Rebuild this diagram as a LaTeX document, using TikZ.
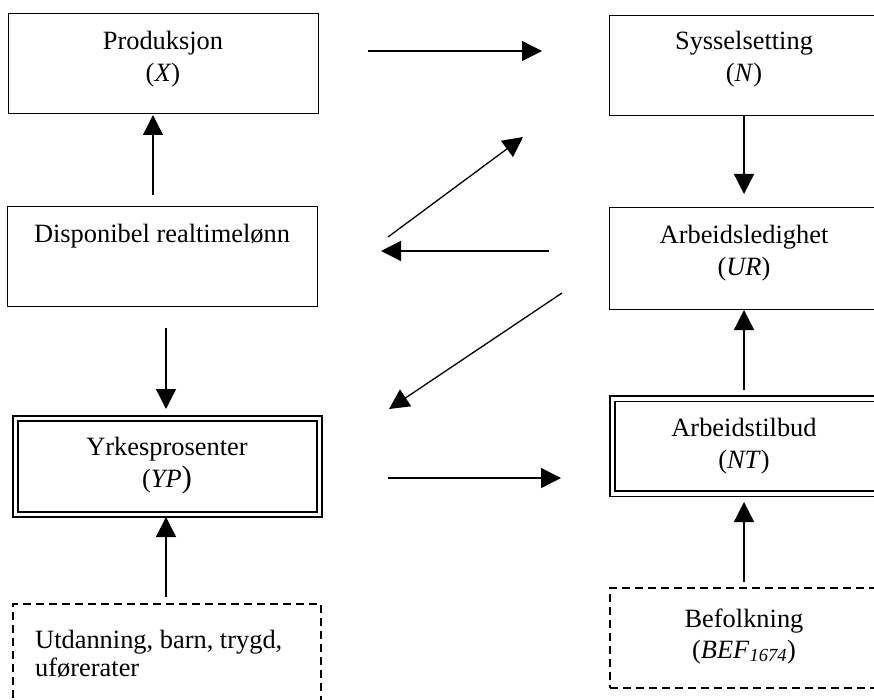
\documentclass[tikz,border=0pt]{standalone}
\usepackage{fontspec}
\setmainfont{Liberation Serif}
\usetikzlibrary{arrows.meta}
\begin{document}
\begin{tikzpicture}[x=1pt,y=-1pt,
  box/.style={draw, line width=1.3pt, inner sep=0pt, anchor=north west, minimum height=100pt},
  dbox/.style={draw, double, line width=1.6pt, double distance=3.6pt, inner sep=0pt, anchor=north west},
  dshbox/.style={draw, dash pattern=on 8pt off 5pt, line width=1.6pt, inner sep=0pt, anchor=north west},
  arr/.style={-{Triangle[length=20pt,width=20pt]}, line width=1.3pt},
  txt/.style={anchor=base, inner sep=0pt, font=\fontsize{26.4}{31}\selectfont},
  ltxt/.style={anchor=base west, inner sep=0pt, font=\fontsize{26.4}{31}\selectfont}]
\useasboundingbox (0,0) rectangle (874,700);
\clip (0,0) rectangle (874,700);
% boxes
\node[box, minimum width=310pt] (prod) at (8,13) {};
\node[box, minimum width=272pt] (syss) at (609,15) {};
\node[box, minimum width=310pt] (disp) at (7,206) {};
\node[box, minimum width=272pt, minimum height=102pt] (arb) at (609,207) {};
\node[dbox, minimum width=304pt, minimum height=96pt] (yrk) at (14.5,417.5) {};
\node[dbox, minimum width=268pt, minimum height=95pt] (arbt) at (611.5,398) {};
\node[dshbox, minimum width=308pt, minimum height=130pt] (utd) at (12,603) {};
\node[dshbox, minimum width=272pt, minimum height=100pt] (bef) at (609,587) {};
% texts
\node[txt] (prod1) at (163,50) {Produksjon};
\node[txt] (prod2) at (163,82) {(\textit{X})};
\node[txt] (syss1) at (744,50) {Sysselsetting};
\node[txt] (syss2) at (744,82) {(\textit{N})};
\node[txt] (disp1) at (162,243) {Disponibel realtimelønn};
\node[txt] (arb1) at (744,244) {Arbeidsledighet};
\node[txt] (arb2) at (744,276) {(\textit{UR})};
\node[txt] (yrk1) at (167,455) {Yrkesprosenter};
\node[txt] (yrk2) at (167,487) {(\textit{YP}{\fontsize{31}{31}\selectfont)}};
\node[txt] (arbt1) at (744,436) {Arbeidstilbud};
\node[txt] (arbt2) at (744,468) {(\textit{NT})};
\node[txt] (bef1) at (744,627) {Befolkning};
\node[txt] (bef2) at (744,658) {(\textit{BEF}\textsubscript{\textit{1674}})};
\node[ltxt] (utd1) at (35,648) {Utdanning, barn, trygd,};
\node[ltxt] (utd2) at (35,676) {uførerater};
% arrow end points
\coordinate (a1s) at (368,51);   \coordinate (a1e) at (542,51);
\coordinate (a2s) at (153,195);  \coordinate (a2e) at (153,115);
\coordinate (a3s) at (744,115);  \coordinate (a3e) at (744,194);
\coordinate (a4s) at (388,237);  \coordinate (a4e) at (523,137);
\coordinate (a5s) at (549,251);  \coordinate (a5e) at (381,251);
\coordinate (a6s) at (562,293);  \coordinate (a6e) at (389,409);
\coordinate (a7s) at (166,328);  \coordinate (a7e) at (166,409);
\coordinate (a8s) at (388,478);  \coordinate (a8e) at (561,478);
\coordinate (a9s) at (744,390);  \coordinate (a9e) at (744,310);
\coordinate (a10s) at (166,597); \coordinate (a10e) at (166,517);
\coordinate (a11s) at (744,582); \coordinate (a11e) at (744,502);
% arrows
\draw[arr] (a1s) -- (a1e);
\draw[arr] (a2s) -- (a2e);
\draw[arr] (a3s) -- (a3e);
\draw[arr] (a4s) -- (a4e);
\draw[arr] (a5s) -- (a5e);
\draw[arr] (a6s) -- (a6e);
\draw[arr] (a7s) -- (a7e);
\draw[arr] (a8s) -- (a8e);
\draw[arr] (a9s) -- (a9e);
\draw[arr] (a10s) -- (a10e);
\draw[arr] (a11s) -- (a11e);
\end{tikzpicture}
\end{document}
